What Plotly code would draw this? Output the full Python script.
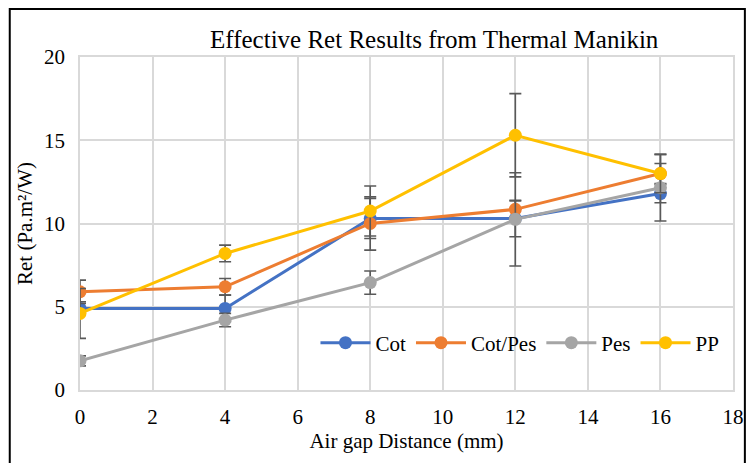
import plotly.graph_objects as go

x_mm = [0, 4, 8, 12, 16]
cot = [4.9, 4.9, 10.3, 10.3, 11.8]
cot_pes = [5.9, 6.2, 10.0, 10.85, 13.0]
pes = [1.75, 4.2, 6.45, 10.25, 12.15]
pp = [4.6, 8.2, 10.75, 15.3, 13.0]

cot_err = [0.4, 0.8, 1.2, 1.1, 0.55]
cot_pes_err = [0.7, 0.5, 1.6, 0.5, 0.6]
pes_err = [0.3, 0.4, 0.7, 2.8, 2.0]
pp_err = [1.5, 0.5, 1.5, 2.5, 1.15]

names = ["Cot", "Cot/Pes", "Pes", "PP"]
colors = ["#4472C4", "#ED7D31", "#A5A5A5", "#FFC000"]
series = [cot, cot_pes, pes, pp]
errors = [cot_err, cot_pes_err, pes_err, pp_err]

fig = go.Figure()
for name, col, ys, es in zip(names, colors, series, errors):
    fig.add_trace(go.Scatter(
        x=x_mm, y=ys, name=name, mode="lines+markers",
        line=dict(color=col, width=3),
        marker=dict(color=col, size=13),
        error_y=dict(type="data", array=es, visible=True,
                     color="#595959", thickness=1.6, width=6),
    ))

ff = "Liberation Serif"
fig.update_layout(
    width=748, height=455,
    margin=dict(l=72, r=16, t=49, b=73),
    paper_bgcolor="white", plot_bgcolor="white",
    font=dict(family=ff, size=21, color="black"),
    title=dict(text="Effective Ret Results from Thermal Manikin",
               x=(438 - 80) / 660, xanchor="center", xref="paper",
               y=(455 - 31) / 455, yanchor="middle",
               font=dict(size=25, family=ff, color="black")),
    xaxis=dict(range=[0, 18], dtick=2, showgrid=True, gridcolor="#D9D9D9", gridwidth=1.5,
               zeroline=False, showline=True, linecolor="#D9D9D9", linewidth=1.5,
               ticks="", tickfont=dict(size=21, family=ff, color="black"), mirror=True,
               ticklabelstandoff=7,
               title=dict(text="Air gap Distance (mm)", font=dict(size=21, family=ff, color="black"), standoff=4)),
    yaxis=dict(range=[0, 20], dtick=5, showgrid=True, gridcolor="#D9D9D9", gridwidth=1.5,
               zeroline=False, showline=True, linecolor="#D9D9D9", linewidth=1.5,
               ticks="", tickfont=dict(size=21, family=ff, color="black"), mirror=True,
               ticklabelstandoff=9,
               title=dict(text="Ret (Pa.m²/W)", font=dict(size=21, family=ff, color="black"), standoff=6)),
    legend=dict(orientation="h", x=(318 - 80) / 660, xanchor="left",
                y=(390 - 343) / 333, yanchor="middle",
                bgcolor="rgba(0,0,0,0)", font=dict(size=21, family=ff, color="black"), itemwidth=50,
                traceorder="normal"),
    showlegend=True,
)
fig.add_shape(type="rect", xref="paper", yref="paper",
              x0=-71 / 660, x1=672 / 660, y0=-80 / 333, y1=(382 - 1) / 333,
              line=dict(color="black", width=2), fillcolor="rgba(0,0,0,0)", layer="above")

fig.write_html("out.html")
